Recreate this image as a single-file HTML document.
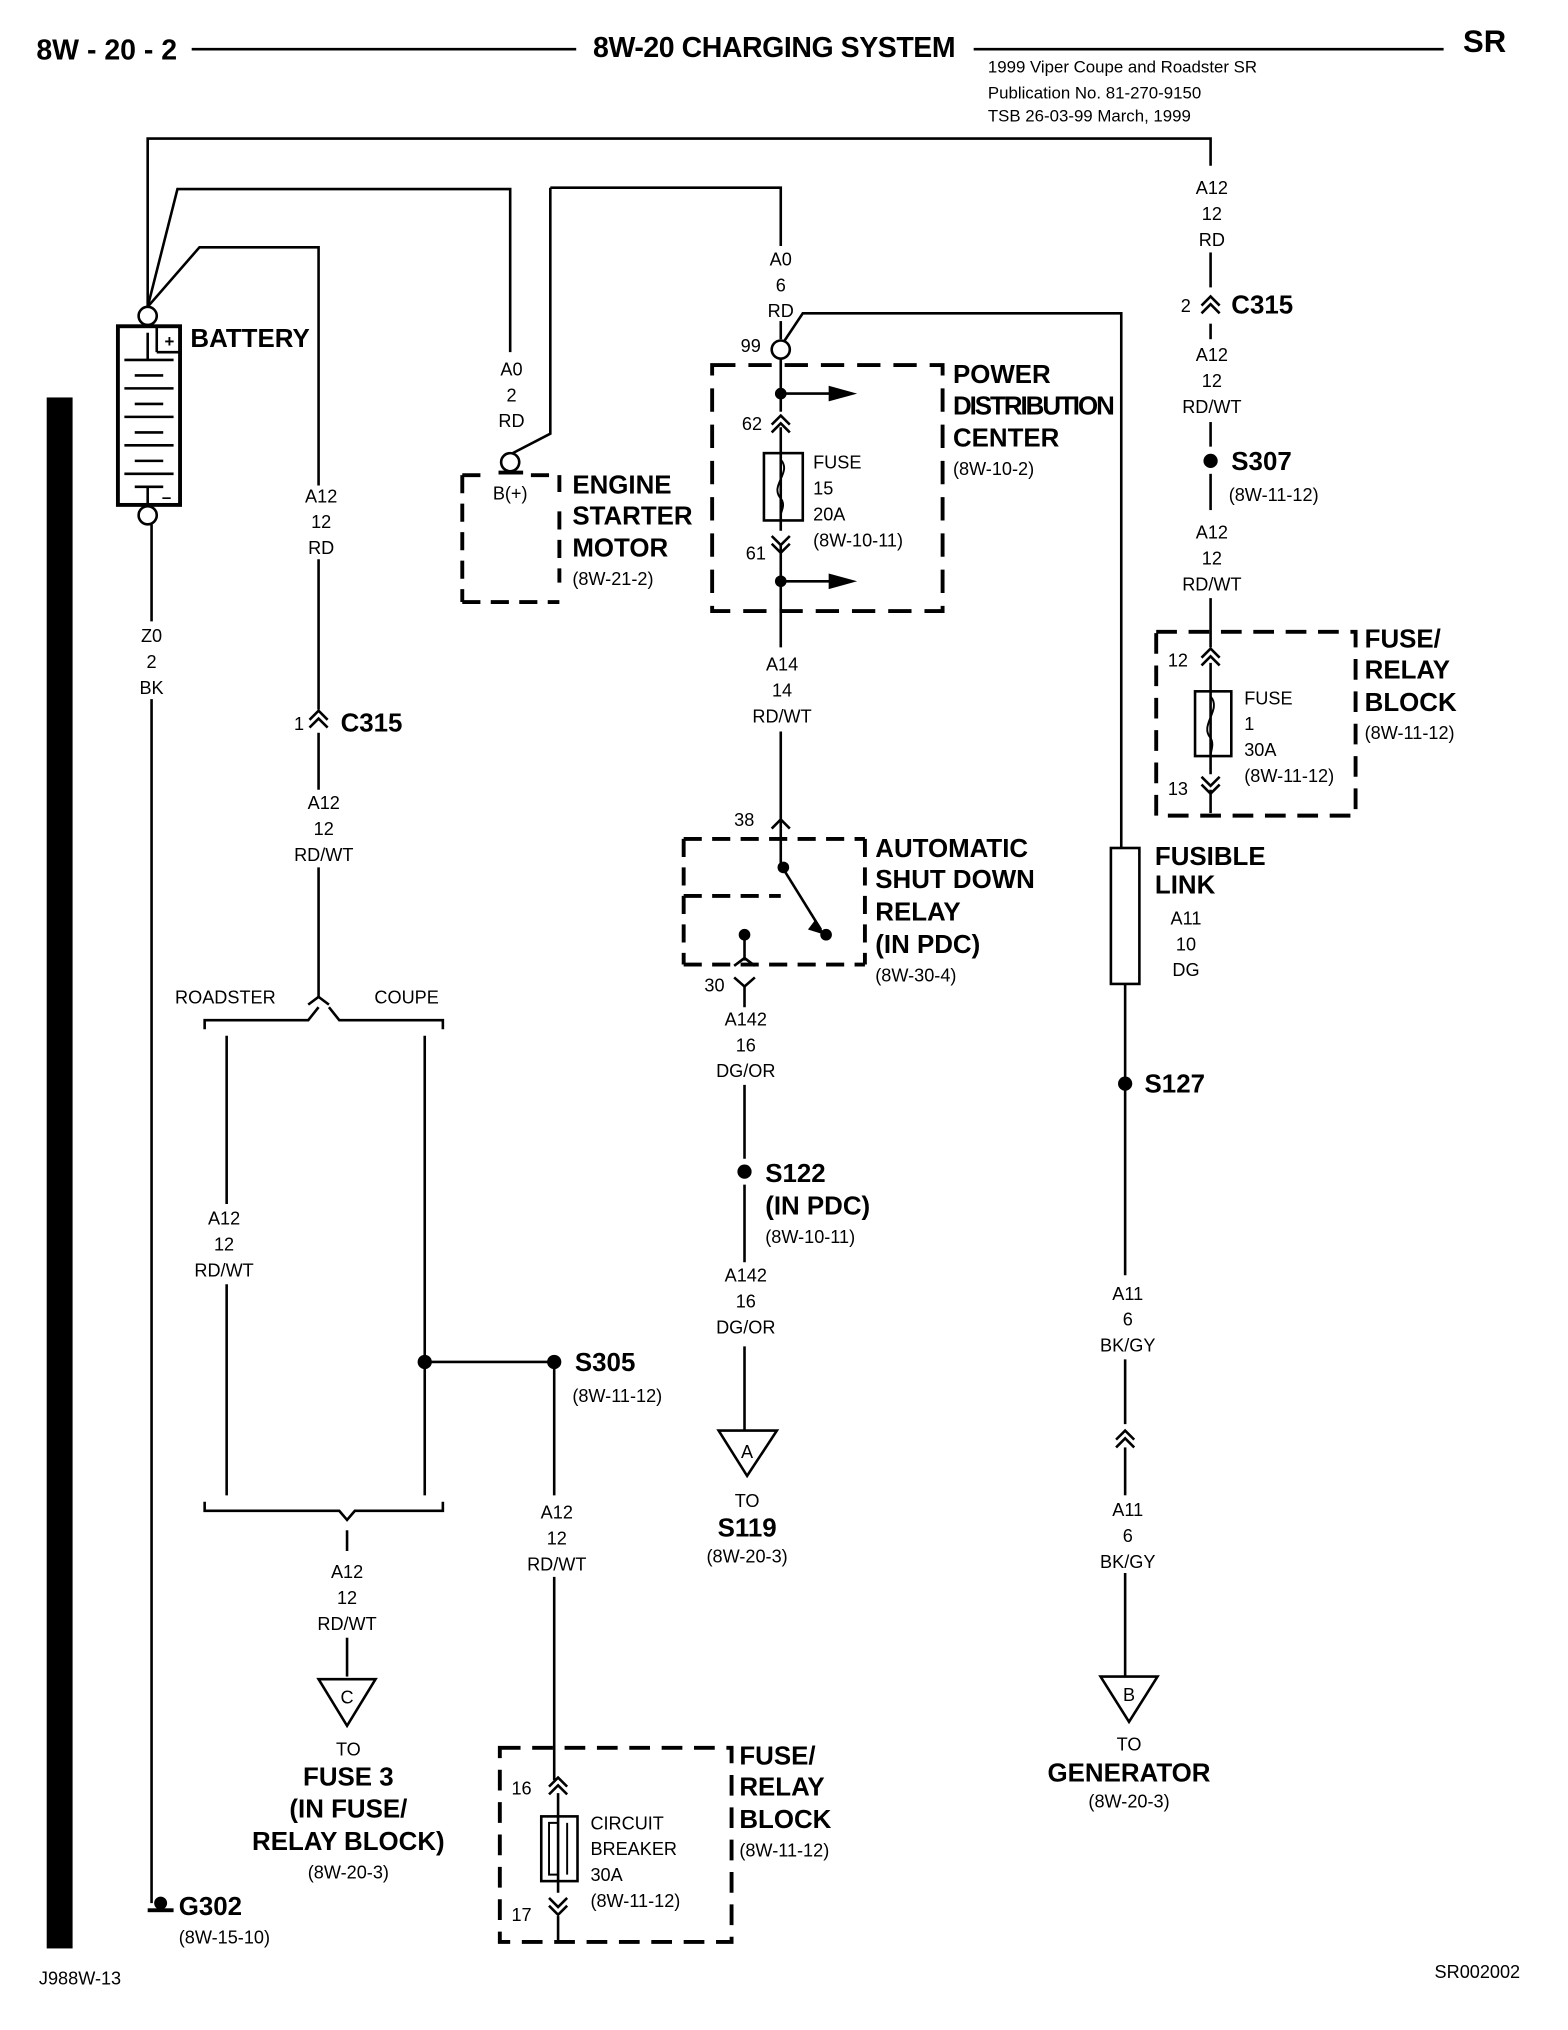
<!DOCTYPE html>
<html><head><meta charset="utf-8"><style>
html,body{margin:0;padding:0;background:#fff}
svg{display:block}
text{font-family:"Liberation Sans",Arial,sans-serif;fill:#000}
.s{font-size:14px}
.b{font-size:20px;font-weight:bold}
.m{font-size:14px;text-anchor:middle}
</style></head><body>
<svg width="1568" height="2030" viewBox="0 0 1211 1568" xmlns="http://www.w3.org/2000/svg">
<g stroke="#000" stroke-width="2" fill="none">
<!-- header -->
<line x1="148" y1="38" x2="445" y2="38"/>
<line x1="752" y1="38" x2="1115" y2="38"/>
<!-- battery wires -->
<polyline points="114,237 114,107 935,107 935,128"/>
<line x1="935" y1="195" x2="935" y2="222"/>
<polyline points="114,237 137,146 394,146 394,272"/>
<polyline points="114,237 154,191 246,191 246,375"/>
<line x1="246" y1="432" x2="246" y2="548"/>
<path d="M239,556 L246,549 L253,556 M239,562 L246,555 L253,562"/>
<line x1="246" y1="566" x2="246" y2="610"/>
<line x1="246" y1="670" x2="246" y2="770"/>
<!-- battery -->
<circle cx="114" cy="244" r="7"/>
<rect x="91" y="252" width="48" height="138" stroke-width="3"/>
<line x1="114" y1="257" x2="114" y2="278"/>
<line x1="96" y1="278" x2="134" y2="278"/>
<line x1="104" y1="290" x2="126" y2="290"/><line x1="96" y1="300" x2="134" y2="300"/>
<line x1="104" y1="312" x2="126" y2="312"/><line x1="96" y1="322" x2="134" y2="322"/>
<line x1="104" y1="334" x2="126" y2="334"/><line x1="96" y1="344" x2="134" y2="344"/>
<line x1="104" y1="356" x2="126" y2="356"/><line x1="96" y1="366" x2="134" y2="366"/>
<line x1="104" y1="376" x2="126" y2="376"/><line x1="114" y1="376" x2="114" y2="390"/>
<line x1="121" y1="252" x2="121" y2="272"/><line x1="121" y1="272" x2="139" y2="272"/>
<circle cx="114" cy="398" r="7"/>
<line x1="117" y1="405" x2="117" y2="480"/>
<line x1="117" y1="540" x2="117" y2="1470"/>
<!-- starter -->
<polyline points="425,145 425,335 396,350"/>
<polyline points="425,145 603,145 603,190"/>
<line x1="603" y1="248" x2="603" y2="262"/>
<circle cx="394" cy="357" r="7"/>
<line x1="385" y1="365" x2="404" y2="365" stroke-width="3"/>
<path d="M357,367 H378 M410,367 H432 M357,367 V465 M357,465 H432 M432,367 V380 M432,395 V450" stroke-dasharray="14,8" stroke-width="3"/>
<!-- PDC -->
<circle cx="603" cy="270" r="7"/>
<polyline points="606,263 620,242 866,242 866,655"/>
<rect x="550" y="282" width="178" height="190" stroke-dasharray="18,10" stroke-width="3"/>
<line x1="603" y1="277" x2="603" y2="318"/>
<line x1="603" y1="304" x2="655" y2="304"/>
<path d="M596,328 L603,321 L610,328 M596,334 L603,327 L610,334"/>
<line x1="603" y1="330" x2="603" y2="410"/>
<rect x="590" y="350" width="30" height="52"/>
<path d="M596,414 L603,421 L610,414 M596,420 L603,427 L610,420"/>
<line x1="603" y1="420" x2="603" y2="500"/>
<line x1="603" y1="449" x2="655" y2="449"/>
<line x1="603" y1="565" x2="603" y2="640"/>
<path d="M596,640 L603,633 L610,640"/>
<!-- ASD relay -->
<path d="M528,648 H668 M668,648 V745 M528,745 H668 M528,648 V745 M528,692 H603" stroke-dasharray="14,8" stroke-width="3"/>
<line x1="603" y1="640" x2="603" y2="668"/>
<line x1="603" y1="668" x2="634" y2="718"/>
<line x1="575" y1="722" x2="575" y2="742"/>
<path d="M567,746 L575,740 L583,746"/>
<path d="M567,755 L575,762 L583,755"/>
<line x1="575" y1="762" x2="575" y2="778"/>
<line x1="575" y1="838" x2="575" y2="895"/>
<line x1="575" y1="915" x2="575" y2="975"/>
<line x1="575" y1="1040" x2="575" y2="1105"/>
<!-- right C315 chain -->
<path d="M928,236 L935,229 L942,236 M928,242 L935,235 L942,242"/>
<line x1="935" y1="250" x2="935" y2="262"/>
<line x1="935" y1="326" x2="935" y2="345"/>
<line x1="935" y1="366" x2="935" y2="394"/>
<line x1="935" y1="462" x2="935" y2="500"/>
<path d="M893,488 H1047 V630 H893 Z" stroke-dasharray="16,9" stroke-width="3"/>
<path d="M928,508 L935,501 L942,508 M928,514 L935,507 L942,514"/>
<line x1="935" y1="512" x2="935" y2="598"/>
<rect x="923" y="534" width="28" height="50"/>
<path d="M928,600 L935,607 L942,600 M928,606 L935,613 L942,606"/>
<line x1="935" y1="610" x2="935" y2="628"/>
<!-- fusible link -->
<rect x="858" y="655" width="22" height="105"/>
<line x1="869" y1="760" x2="869" y2="985"/>
<line x1="869" y1="1050" x2="869" y2="1100"/>
<path d="M862,1112 L869,1105 L876,1112 M862,1118 L869,1111 L876,1118"/>
<line x1="869" y1="1118" x2="869" y2="1155"/>
<line x1="869" y1="1215" x2="869" y2="1295"/>
<path d="M850,1295 H894 L872,1330 Z"/>
<!-- left branch -->
<path d="M238,776 L246,770 L254,776"/>
<path d="M158,795 V788 H238 L246,778 M254,778 L262,788 H342 V795"/>
<line x1="175" y1="800" x2="175" y2="930"/>
<line x1="175" y1="992" x2="175" y2="1155"/>
<line x1="328" y1="800" x2="328" y2="1155"/>
<path d="M158,1160 V1167 H262 L268,1174 L274,1167 H342 V1160"/>
<line x1="268" y1="1182" x2="268" y2="1198"/>
<line x1="268" y1="1265" x2="268" y2="1295"/>
<path d="M246,1297 H290 L268,1333 Z"/>
<line x1="328" y1="1052" x2="428" y2="1052"/>
<line x1="428" y1="1052" x2="428" y2="1155"/>
<line x1="428" y1="1218" x2="428" y2="1375"/>
<path d="M386,1350 H565 V1500 H386 Z" stroke-dasharray="16,9" stroke-width="3"/>
<path d="M424,1380 L431,1373 L438,1380 M424,1386 L431,1379 L438,1386"/>
<line x1="431" y1="1385" x2="431" y2="1462"/>
<rect x="418" y="1403" width="28" height="50"/>
<path d="M424,1466 L431,1473 L438,1466 M424,1472 L431,1479 L438,1472"/>
<line x1="431" y1="1480" x2="431" y2="1500"/>
<path d="M555,1105 H600 L577,1140 Z"/>
</g>
<g stroke="#000" stroke-width="1.5" fill="none">
<path d="M603,355 C612,365 594,375 603,385 C607,390 603,395 603,398"/>
<path d="M935,538 C944,548 926,560 935,570 C938,575 935,580 935,584"/>
<path d="M431,1408 H424 V1448 H431 M438,1408 V1448"/>
</g>
<g fill="#000">
<rect x="36" y="307" width="20" height="1198"/>
<path d="M640,298 L662,304 L640,310 Z"/><path d="M640,443 L662,449 L640,455 Z"/>
<circle cx="603" cy="304" r="4.5"/><circle cx="603" cy="449" r="4.5"/>
<circle cx="605" cy="670" r="4.5"/><circle cx="638" cy="722" r="4.5"/><circle cx="575" cy="722" r="4.5"/>
<path d="M630,710 L637,722 L624,718 Z"/>
<circle cx="935" cy="356" r="5.5"/><circle cx="869" cy="837" r="5.5"/>
<circle cx="575" cy="905" r="5.5"/><circle cx="328" cy="1052" r="5.5"/><circle cx="428" cy="1052" r="5.5"/>
<rect x="114" y="1474" width="20" height="3"/><circle cx="124" cy="1470" r="5"/>
</g>
<text x="28" y="46" class="b" style="font-size:22px">8W - 20 - 2</text>
<text x="458" y="44" class="b" style="font-size:22px" textLength="280">8W-20 CHARGING SYSTEM</text>
<text x="1130" y="40" class="b" style="font-size:24px">SR</text>
<text x="763" y="56" class="s" style="font-size:13px">1999 Viper Coupe and Roadster   SR</text>
<text x="763" y="76" class="s" style="font-size:13px">Publication No. 81-270-9150</text>
<text x="763" y="94" class="s" style="font-size:13px">TSB 26-03-99       March, 1999</text>
<text x="147" y="268" class="b">BATTERY</text>
<text x="127" y="268" style="font-size:13px;font-weight:bold">+</text>
<text x="125" y="388" style="font-size:13px;font-weight:bold">–</text>
<text class="m" x="248" y="388">A12</text><text class="m" x="248" y="408">12</text><text class="m" x="248" y="428">RD</text>
<text class="m" x="117" y="496">Z0</text><text class="m" x="117" y="516">2</text><text class="m" x="117" y="536">BK</text>
<text class="m" x="395" y="290">A0</text><text class="m" x="395" y="310">2</text><text class="m" x="395" y="330">RD</text>
<text class="m" x="394" y="386">B(+)</text>
<text x="442" y="381" class="b">ENGINE</text><text x="442" y="405" class="b">STARTER</text><text x="442" y="430" class="b">MOTOR</text>
<text x="442" y="452" class="s">(8W-21-2)</text>
<text class="m" x="603" y="205">A0</text><text class="m" x="603" y="225">6</text><text class="m" x="603" y="245">RD</text>
<text x="572" y="272" class="s">99</text>
<text x="736" y="296" class="b">POWER</text><text x="736" y="320" class="b" textLength="125">DISTRIBUTION</text><text x="736" y="345" class="b">CENTER</text>
<text x="736" y="367" class="s">(8W-10-2)</text>
<text x="573" y="332" class="s">62</text><text x="576" y="432" class="s">61</text>
<text x="628" y="362" class="s">FUSE</text><text x="628" y="382" class="s">15</text><text x="628" y="402" class="s">20A</text><text x="628" y="422" class="s">(8W-10-11)</text>
<text class="m" x="604" y="518">A14</text><text class="m" x="604" y="538">14</text><text class="m" x="604" y="558">RD/WT</text>
<text x="567" y="638" class="s">38</text>
<text x="676" y="662" class="b">AUTOMATIC</text><text x="676" y="686" class="b">SHUT DOWN</text><text x="676" y="711" class="b">RELAY</text><text x="676" y="736" class="b">(IN PDC)</text>
<text x="676" y="758" class="s">(8W-30-4)</text>
<text x="544" y="766" class="s">30</text>
<text class="m" x="576" y="792">A142</text><text class="m" x="576" y="812">16</text><text class="m" x="576" y="832">DG/OR</text>
<text x="591" y="913" class="b">S122</text><text x="591" y="938" class="b">(IN PDC)</text><text x="591" y="960" class="s">(8W-10-11)</text>
<text class="m" x="576" y="990">A142</text><text class="m" x="576" y="1010">16</text><text class="m" x="576" y="1030">DG/OR</text>
<text class="m" x="577" y="1126">A</text>
<text class="m" x="577" y="1164">TO</text>
<text x="577" y="1187" class="b" style="text-anchor:middle">S119</text>
<text class="m" x="577" y="1207">(8W-20-3)</text>
<text class="m" x="936" y="150">A12</text><text class="m" x="936" y="170">12</text><text class="m" x="936" y="190">RD</text>
<text x="912" y="241" class="s">2</text><text x="951" y="242" class="b">C315</text>
<text class="m" x="936" y="279">A12</text><text class="m" x="936" y="299">12</text><text class="m" x="936" y="319">RD/WT</text>
<text x="951" y="363" class="b">S307</text><text x="949" y="387" class="s">(8W-11-12)</text>
<text class="m" x="936" y="416">A12</text><text class="m" x="936" y="436">12</text><text class="m" x="936" y="456">RD/WT</text>
<text x="902" y="515" class="s">12</text><text x="902" y="614" class="s">13</text>
<text x="961" y="544" class="s">FUSE</text><text x="961" y="564" class="s">1</text><text x="961" y="584" class="s">30A</text><text x="961" y="604" class="s">(8W-11-12)</text>
<text x="1054" y="500" class="b">FUSE/</text><text x="1054" y="524" class="b">RELAY</text><text x="1054" y="549" class="b">BLOCK</text>
<text x="1054" y="571" class="s">(8W-11-12)</text>
<text x="892" y="668" class="b">FUSIBLE</text><text x="892" y="690" class="b">LINK</text>
<text class="m" x="916" y="714">A11</text><text class="m" x="916" y="734">10</text><text class="m" x="916" y="754">DG</text>
<text x="884" y="844" class="b">S127</text>
<text class="m" x="871" y="1004">A11</text><text class="m" x="871" y="1024">6</text><text class="m" x="871" y="1044">BK/GY</text>
<text class="m" x="871" y="1171">A11</text><text class="m" x="871" y="1191">6</text><text class="m" x="871" y="1211">BK/GY</text>
<text class="m" x="872" y="1314">B</text>
<text class="m" x="872" y="1352">TO</text>
<text x="872" y="1376" class="b" style="text-anchor:middle">GENERATOR</text>
<text class="m" x="872" y="1396">(8W-20-3)</text>
<text x="227" y="564" class="s">1</text><text x="263" y="565" class="b">C315</text>
<text class="m" x="250" y="625">A12</text><text class="m" x="250" y="645">12</text><text class="m" x="250" y="665">RD/WT</text>
<text class="m" x="174" y="775">ROADSTER</text><text class="m" x="314" y="775">COUPE</text>
<text class="m" x="173" y="946">A12</text><text class="m" x="173" y="966">12</text><text class="m" x="173" y="986">RD/WT</text>
<text x="444" y="1059" class="b">S305</text><text x="442" y="1083" class="s">(8W-11-12)</text>
<text class="m" x="430" y="1173">A12</text><text class="m" x="430" y="1193">12</text><text class="m" x="430" y="1213">RD/WT</text>
<text class="m" x="268" y="1219">A12</text><text class="m" x="268" y="1239">12</text><text class="m" x="268" y="1259">RD/WT</text>
<text class="m" x="268" y="1316">C</text>
<text class="m" x="269" y="1356">TO</text>
<text x="269" y="1379" class="b" style="text-anchor:middle">FUSE 3</text>
<text x="269" y="1404" class="b" style="text-anchor:middle">(IN FUSE/</text>
<text x="269" y="1429" class="b" style="text-anchor:middle">RELAY BLOCK)</text>
<text class="m" x="269" y="1451">(8W-20-3)</text>
<text x="395" y="1386" class="s">16</text><text x="395" y="1484" class="s">17</text>
<text x="456" y="1413" class="s">CIRCUIT</text><text x="456" y="1433" class="s">BREAKER</text><text x="456" y="1453" class="s">30A</text><text x="456" y="1473" class="s">(8W-11-12)</text>
<text x="571" y="1363" class="b">FUSE/</text><text x="571" y="1387" class="b">RELAY</text><text x="571" y="1412" class="b">BLOCK</text>
<text x="571" y="1434" class="s">(8W-11-12)</text>
<text x="138" y="1479" class="b">G302</text><text x="138" y="1501" class="s">(8W-15-10)</text>
<text x="30" y="1533" class="s">J988W-13</text>
<text x="1108" y="1528" class="s">SR002002</text>
</svg>
</body></html>
